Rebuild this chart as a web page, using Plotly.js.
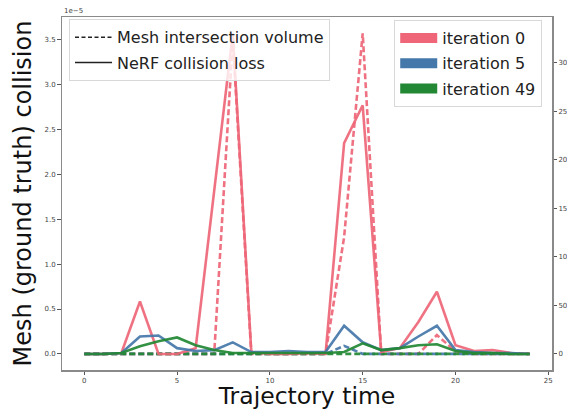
<!DOCTYPE html>
<html>
<head>
<meta charset="utf-8">
<script src="https://cdn.plot.ly/plotly-3.0.1.min.js"></script>
<style>
html,body{margin:0;padding:0;background:#fff;}
#chart{width:567px;height:410px;}
</style>
</head>
<body>
<div id="chart"></div>
<script>
// Trajectory time steps
const timeSteps = [0,1,2,3,4,5,6,7,8,9,10,11,12,13,14,15,16,17,18,19,20,21,22,23,24];

// Mesh intersection volume (left axis, units of 1e-5) — dashed
const meshIter0  = [0,0,0,0,0,0,0,0,3.5,0,0,0,0,0,1.3,3.57,0,0,0,0.21,0.03,0,0,0,0];
const meshIter5  = [0,0,0,0,0,0,0,0,0,0,0,0,0,0,0.09,0,0,0,0,0,0,0,0,0,0];
const meshIter49 = [0,0,0,0,0,0,0,0,0,0,0,0,0,0,0,0,0,0,0,0,0,0,0,0,0];

// NeRF collision loss (right axis) — solid
const nerfIter0  = [0,0,1,54,0,0,6,168,330,2,0,0,1,0,217,256,2,6,33,64,9,3,4,1,0];
const nerfIter5  = [0,0,1,18,19,6,3,4,12,2,2,3,2,2,29,12,4,6,18,29,4,2,1,1,0];
const nerfIter49 = [0,0,1,8,13,17,9,4,1,1,1,1,1,1,2,11,4,6,9,10,3,1,1,0,0];

const iterationNames = ['iteration 0','iteration 5','iteration 49'];
const colors = ['#EE6677','#4477AA','#228833'];
const meshSeries = [meshIter0, meshIter5, meshIter49];
const nerfSeries = [nerfIter0, nerfIter5, nerfIter49];
const styleNames = ['Mesh intersection volume','NeRF collision loss'];

const traces = [];
meshSeries.forEach((s,i)=>{
  traces.push({x:timeSteps, y:s, type:'scatter', mode:'lines', yaxis:'y',
    line:{color:colors[i], width:2.6, dash:'6px,3px'}, opacity:0.92, showlegend:false, hoverinfo:'skip'});
});
nerfSeries.forEach((s,i)=>{
  traces.push({x:timeSteps, y:s, type:'scatter', mode:'lines', yaxis:'y2',
    line:{color:colors[i], width:2.6}, opacity:0.92, showlegend:false, hoverinfo:'skip'});
});
// legend 1: line styles
traces.push({x:[null], y:[null], type:'scatter', mode:'lines', name:styleNames[0], legendgroup:'s0',
  line:{color:'#222', width:1.5, dash:'4px,2.5px'}, legend:'legend', showlegend:true});
traces.push({x:[null], y:[null], type:'scatter', mode:'lines', name:styleNames[1], legendgroup:'s1',
  line:{color:'#222', width:1.5}, legend:'legend', showlegend:true});
// legend 2: iteration colours
iterationNames.forEach((n,i)=>{
  traces.push({x:[null], y:[null], type:'scatter', mode:'lines', name:n, yaxis:'y2', legendgroup:'it'+i,
    line:{color:colors[i], width:11}, legend:'legend2', showlegend:true});
});

const axisLine = '#8a8a8a';
const tickFont = {family:'DejaVu Sans', size:7, color:'#444'};
const legendFont = {family:'DejaVu Sans', size:16, color:'#222'};
const layout = {
  width:567, height:410,
  margin:{l:62, r:15.3, t:16.7, b:40},
  paper_bgcolor:'#fff', plot_bgcolor:'#fff',
  font:{family:'DejaVu Sans', color:'#222'},
  xaxis:{range:[-1.2,25.2], tickvals:[0,5,10,15,20,25], showgrid:false, zeroline:false,
    showline:true, linecolor:axisLine, linewidth:1.5, mirror:true,
    ticks:'outside', ticklen:3.5, tickcolor:'#555', tickfont:tickFont,
    title:{text:'Trajectory time', font:{family:'DejaVu Sans', size:23.5, color:'#111'}, standoff:9}},
  yaxis:{range:[-0.179,3.751], tickvals:[0,0.5,1,1.5,2,2.5,3,3.5], tickformat:'.1f', showgrid:false, zeroline:false,
    showline:true, linecolor:axisLine, linewidth:1.5,
    ticks:'outside', ticklen:3.5, tickcolor:'#555', tickfont:tickFont,
    title:{text:'Mesh (ground truth) collision', font:{family:'DejaVu Sans', size:24, color:'#111'}, standoff:6}},
  yaxis2:{range:[-16.5,346.9], tickvals:[0,50,100,150,200,250,300], overlaying:'y', side:'right',
    showgrid:false, zeroline:false, showline:true, linecolor:axisLine, linewidth:1.5,
    ticks:'outside', ticklen:3.5, tickcolor:'#555', tickfont:tickFont},
  legend:{x:0.0143, y:0.9935, xanchor:'left', yanchor:'top', bgcolor:'rgba(255,255,255,0.8)',
    bordercolor:'#d8d8d8', borderwidth:1, font:legendFont, itemwidth:37, tracegroupgap:1.5},
  legend2:{x:0.678, y:0.9915, xanchor:'left', yanchor:'top', bgcolor:'rgba(255,255,255,0.8)',
    bordercolor:'#d8d8d8', borderwidth:1, font:legendFont, itemwidth:37, tracegroupgap:1.5},
  annotations:[{text:'1e\u22125', xref:'paper', yref:'paper', x:0, y:1, xanchor:'left', yanchor:'bottom',
    showarrow:false, font:{family:'DejaVu Sans', size:7, color:'#444'}}],
  showlegend:true
};
Plotly.newPlot('chart', traces, layout, {staticPlot:true, displayModeBar:false});
</script>
</body>
</html>
